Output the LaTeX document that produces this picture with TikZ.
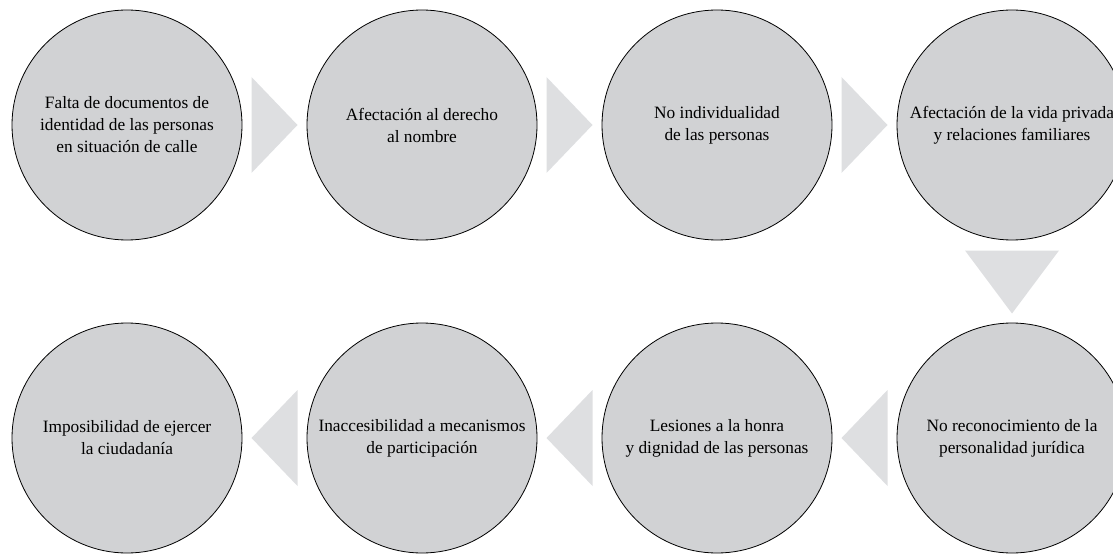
\documentclass[tikz,border=0pt]{standalone}
\usepackage{fontspec}
\setmainfont{Liberation Serif}
\usetikzlibrary{calc}
\definecolor{circgray}{RGB}{209,210,212}
\definecolor{arrgray}{RGB}{222,223,225}

\begin{document}
\begin{tikzpicture}[x=0.75pt,y=-0.75pt,
		etapa/.style={draw, circle, fill=circgray, line width=0.6pt, minimum size=172.5pt, inner sep=0pt, align=center, font=\fontsize{13}{16.5}\selectfont},
		flecha/.style={fill=arrgray}]
		\clip (0,0) rectangle (1113,556);
		
		\node[etapa] (a) at (127,125) {Falta de documentos de\\identidad de las personas\\en situación de calle};
		\node[etapa] (b) at (422,125) {Afectación al derecho\\al nombre};
		\node[etapa] (c) at (717,125) {No individualidad\\de las personas};
		\node[etapa] (d) at (1012,125) {Afectación de la vida privada\\y relaciones familiares};
		\node[etapa] (e) at (1012,438) {No reconocimiento de la\\personalidad jurídica};
		\node[etapa] (f) at (717,438) {Lesiones a la honra\\y dignidad de las personas};
		\node[etapa] (g) at (422,438) {Inaccesibilidad a mecanismos\\de participación};
		\node[etapa] (h) at (127,438) {Imposibilidad de ejercer\\la ciudadanía};
		
		\fill[flecha] ($(a)!0.5!(b)$) ++(-23,-48) -- ++(46,48) -- ++(-46,48) -- cycle;
		\fill[flecha] ($(b)!0.5!(c)$) ++(-23,-48) -- ++(46,48) -- ++(-46,48) -- cycle;
		\fill[flecha] ($(c)!0.5!(d)$) ++(-23,-48) -- ++(46,48) -- ++(-46,48) -- cycle;
		
		\fill[flecha] ($(d)!0.5!(e)$) ++(-47,-31) -- ++(94,0) -- ++(-47,63) -- cycle;
		
		\fill[flecha] ($(e)!0.5!(f)$) ++(23,-48) -- ++(-46,48) -- ++(46,48) -- cycle;
		\fill[flecha] ($(f)!0.5!(g)$) ++(23,-48) -- ++(-46,48) -- ++(46,48) -- cycle;
		\fill[flecha] ($(g)!0.5!(h)$) ++(23,-48) -- ++(-46,48) -- ++(46,48) -- cycle;
\end{tikzpicture}
\end{document}
